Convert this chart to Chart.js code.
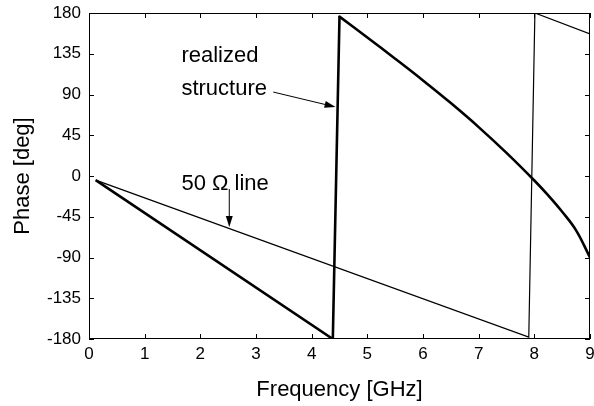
<!DOCTYPE html>
<html>
<head>
<meta charset="utf-8">
<script src="https://cdn.jsdelivr.net/npm/chart.js@4.4.1/dist/chart.umd.min.js"></script>
<style>
  body { margin: 0; background: #fff; }
  #wrap { width: 594px; height: 406px; }
</style>
</head>
<body>
<div id="wrap"><canvas id="myChart"></canvas></div>
<script>
// 50 ohm line (thin)
var lineFreq  = [0.12, 7.9, 8.01, 9];
var linePhase = [-4.5, -178, 180, 157];

// realized structure (thick); first 3 points are the straight part + jump
var realFreq  = [0.12, 4.38, 4.5, 5, 5.5, 6, 6.5, 7, 7.5, 8, 8.25, 8.5, 8.75, 9];
var realPhase = [-4.5, -180, 176, 153, 129.5, 105.5, 80.5, 54, 25.5, -5, -21.5, -39.5, -60, -90];
var jumpIndex = 2;

var xTicks = [0, 1, 2, 3, 4, 5, 6, 7, 8, 9];
var yTicks = [-180, -135, -90, -45, 0, 45, 90, 135, 180];

var font = "'Liberation Sans', Arial, sans-serif";

function toPoints(xs, ys) {
  return xs.map(function (x, i) { return { x: x, y: ys[i] }; });
}

// labels + arrows, placed in data units
var notes = [
  { text: 'realized', x: 1.66, y: 125.8 },
  { text: 'structure', x: 1.66, y: 89.4 },
  { text: '50 \u03A9 line', x: 1.66, y: -15.5 }
];
var arrows = [
  { x1: 3.31, y1: 92.7, x2: 4.43, y2: 76.2 },
  { x1: 2.52, y1: -14.3, x2: 2.52, y2: -56.3 }
];

var framePlugin = {
  id: 'frame',
  afterDraw: function (chart) {
    var ctx = chart.ctx;
    var a = chart.chartArea;
    var xs = chart.scales.x, ys = chart.scales.y;
    ctx.save();
    ctx.strokeStyle = '#000';
    ctx.lineWidth = 1;
    ctx.strokeRect(a.left + 0.5, a.top + 0.5, a.right - a.left - 1, a.bottom - a.top - 1);
    ctx.beginPath();
    xTicks.forEach(function (v) {
      var px = Math.round(xs.getPixelForValue(v)) + 0.5;
      ctx.moveTo(px, a.bottom); ctx.lineTo(px, a.bottom - 5);
      ctx.moveTo(px, a.top); ctx.lineTo(px, a.top + 5);
    });
    yTicks.forEach(function (v) {
      var py = Math.round(ys.getPixelForValue(v)) + 0.5;
      ctx.moveTo(a.left, py); ctx.lineTo(a.left + 5, py);
      ctx.moveTo(a.right, py); ctx.lineTo(a.right - 5, py);
    });
    ctx.stroke();

    ctx.fillStyle = '#000';
    ctx.font = '22px ' + font;
    ctx.textBaseline = 'alphabetic';
    ctx.textAlign = 'left';
    notes.forEach(function (n) {
      ctx.fillText(n.text, xs.getPixelForValue(n.x), ys.getPixelForValue(n.y));
    });

    arrows.forEach(function (r) {
      var x1 = xs.getPixelForValue(r.x1), y1 = ys.getPixelForValue(r.y1);
      var x2 = xs.getPixelForValue(r.x2), y2 = ys.getPixelForValue(r.y2);
      var ang = Math.atan2(y2 - y1, x2 - x1);
      ctx.lineWidth = 1;
      ctx.beginPath();
      ctx.moveTo(x1, y1);
      ctx.lineTo(x2 - 9 * Math.cos(ang), y2 - 9 * Math.sin(ang));
      ctx.stroke();
      ctx.beginPath();
      ctx.moveTo(x2, y2);
      ctx.lineTo(x2 - 11 * Math.cos(ang) + 3.5 * Math.sin(ang), y2 - 11 * Math.sin(ang) - 3.5 * Math.cos(ang));
      ctx.lineTo(x2 - 11 * Math.cos(ang) - 3.5 * Math.sin(ang), y2 - 11 * Math.sin(ang) + 3.5 * Math.cos(ang));
      ctx.closePath();
      ctx.fill();
    });
    ctx.restore();
  }
};

var ctx = document.getElementById('myChart');

var data = {
  datasets: [
    {
      label: '50 ohm line',
      data: toPoints(lineFreq, linePhase),
      borderColor: '#000',
      borderWidth: 1.2,
      pointRadius: 0,
      tension: 0
    },
    {
      label: 'realized structure',
      data: toPoints(realFreq.slice(0, jumpIndex + 1), realPhase.slice(0, jumpIndex + 1)),
      borderColor: '#000',
      borderWidth: 2.6,
      pointRadius: 0,
      tension: 0,
      borderJoinStyle: 'miter'
    },
    {
      label: 'realized structure (curve)',
      data: toPoints(realFreq.slice(jumpIndex), realPhase.slice(jumpIndex)),
      borderColor: '#000',
      borderWidth: 2.6,
      pointRadius: 0,
      tension: 0.4,
      borderCapStyle: 'round'
    }
  ]
};

var options = {
  responsive: true,
  maintainAspectRatio: false,
  animation: false,
  layout: { padding: { top: 13, right: 4, left: 0, bottom: 0 } },
  plugins: {
    legend: { display: false },
    tooltip: { enabled: false }
  },
  scales: {
    x: {
      type: 'linear',
      min: 0,
      max: 9,
      afterBuildTicks: function (s) { s.ticks = xTicks.map(function (v) { return { value: v }; }); },
      afterFit: function (s) { s.height = 67; s.paddingLeft = 0; s.paddingRight = 0; },
      grid: { display: false, drawTicks: false },
      border: { display: false },
      ticks: { color: '#000', padding: 5, font: { family: font, size: 17 }, maxRotation: 0 },
      title: { display: true, text: 'Frequency [GHz]', color: '#000', font: { family: font, size: 22 }, padding: { top: 0, bottom: 3 } }
    },
    y: {
      type: 'linear',
      min: -180,
      max: 180,
      afterBuildTicks: function (s) { s.ticks = yTicks.map(function (v) { return { value: v }; }); },
      afterFit: function (s) { s.width = 89; s.paddingTop = 0; s.paddingBottom = 0; },
      grid: { display: false, drawTicks: false },
      border: { display: false },
      ticks: { color: '#000', padding: 8, font: { family: font, size: 17 } },
      title: { display: true, text: 'Phase [deg]', color: '#000', font: { family: font, size: 22 }, padding: { top: 10, bottom: 0 } }
    }
  }
};

var myChart = new Chart(ctx, {
  type: 'line',
  data: data,
  options: options,
  plugins: [framePlugin]
});
</script>
</body>
</html>
